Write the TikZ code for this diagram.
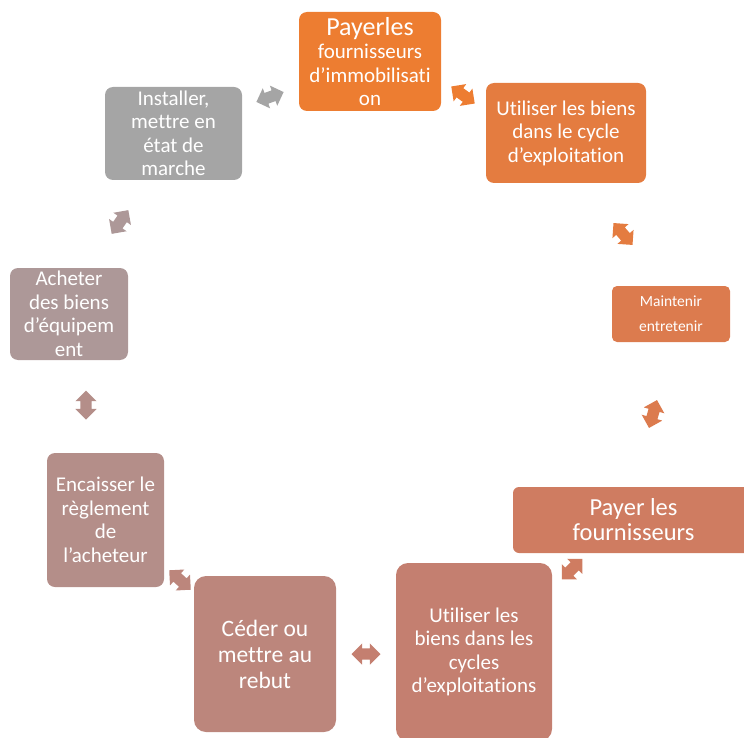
\documentclass[tikz,border=0pt]{standalone}
\usepackage{fontspec}
\setmainfont{Carlito}[Ligatures={NoCommon,NoContextual}]
\usetikzlibrary{shapes.arrows}
\newcommand\tiq{t\kern0pt i}
\definecolor{c1}{HTML}{ED7D31}
\definecolor{c2}{HTML}{E47C40}
\definecolor{c3}{HTML}{DC7B4E}
\definecolor{c4}{HTML}{CF7C61}
\definecolor{c5}{HTML}{C47F70}
\definecolor{c6}{HTML}{BC867C}
\definecolor{c7}{HTML}{B48E89}
\definecolor{c8}{HTML}{AD9898}
\definecolor{c9}{HTML}{A5A5A5}
\tikzset{
  box/.style={rounded corners=8pt, text=white, align=center, inner sep=0pt,
    font=\fontsize{21}{23.5}\selectfont},
  dbl/.style={double arrow, minimum height=29pt, minimum width=21pt,
    double arrow head extend=5pt, inner xsep=0pt, inner ysep=5.5pt, draw=none},
}
\begin{document}
\begin{tikzpicture}[x=1pt,y=-1pt]
\useasboundingbox (0,0) rectangle (744,738);
% boxes
\node[box, fill=c1, minimum width=142pt, minimum height=99pt] (n1) at (370,61.5)
  {{\fontsize{26}{24}\selectfont Payerles}\\fournisseurs\\d’immobilisa\tiq\\on};
\node[box, fill=c2, minimum width=160pt, minimum height=100pt] (n2) at (566,133)
  {U\tiq liser les biens\\dans le cycle\\d’exploita\tiq on};
\node[box, fill=c3, rounded corners=5pt, minimum width=118pt, minimum height=56pt,
  font=\fontsize{15.5}{25}\selectfont] (n3) at (671,314)
  {Maintenir\\entretenir};
\node[box, fill=c4, rounded corners=6pt, minimum width=241pt, minimum height=66pt,
  font=\fontsize{24.5}{25}\selectfont] (n4) at (633.5,520)
  {Payer les\\fournisseurs};
\node[box, fill=c5, rounded corners=12pt, minimum width=156pt, minimum height=178pt] (n5) at (474,652)
  {U\tiq liser les\\biens dans les\\cycles\\d’exploita\tiq ons};
\node[box, fill=c6, rounded corners=12pt, minimum width=142pt, minimum height=156pt,
  font=\fontsize{23.5}{26}\selectfont] (n6) at (265,654)
  {Céder ou\\mettre au\\rebut};
\node[box, fill=c7, minimum width=117pt, minimum height=134pt] (n7) at (105.5,520)
  {Encaisser le\\règlement\\de\\l’acheteur};
\node[box, fill=c8, minimum width=118pt, minimum height=92pt] (n8) at (69,314)
  {Acheter\\des biens\\d’équipem\\ent};
\node[box, fill=c9, minimum width=137pt, minimum height=93pt] (n9) at (173.5,133.5)
  {Installer,\\mettre en\\état de\\marche};
% connectors (block double arrows)
\node[dbl, fill=c9, rotate=20] (a91) at (270,97) {};
\node[dbl, fill=c1, rotate=-36] (a12) at (463,95) {};
\node[dbl, fill=c2, rotate=-49] (a23) at (623,234) {};
\node[dbl, fill=c3, rotate=74] (a34) at (653,414) {};
\node[dbl, fill=c4, rotate=45] (a45) at (572,569) {};
\node[dbl, fill=c5, rotate=0] (a56) at (366,654) {};
\node[dbl, fill=c6, rotate=-42] (a67) at (180,580) {};
\node[dbl, fill=c7, rotate=90] (a78) at (86,405) {};
\node[dbl, fill=c8, rotate=55] (a89) at (120,222) {};
\end{tikzpicture}
\end{document}
